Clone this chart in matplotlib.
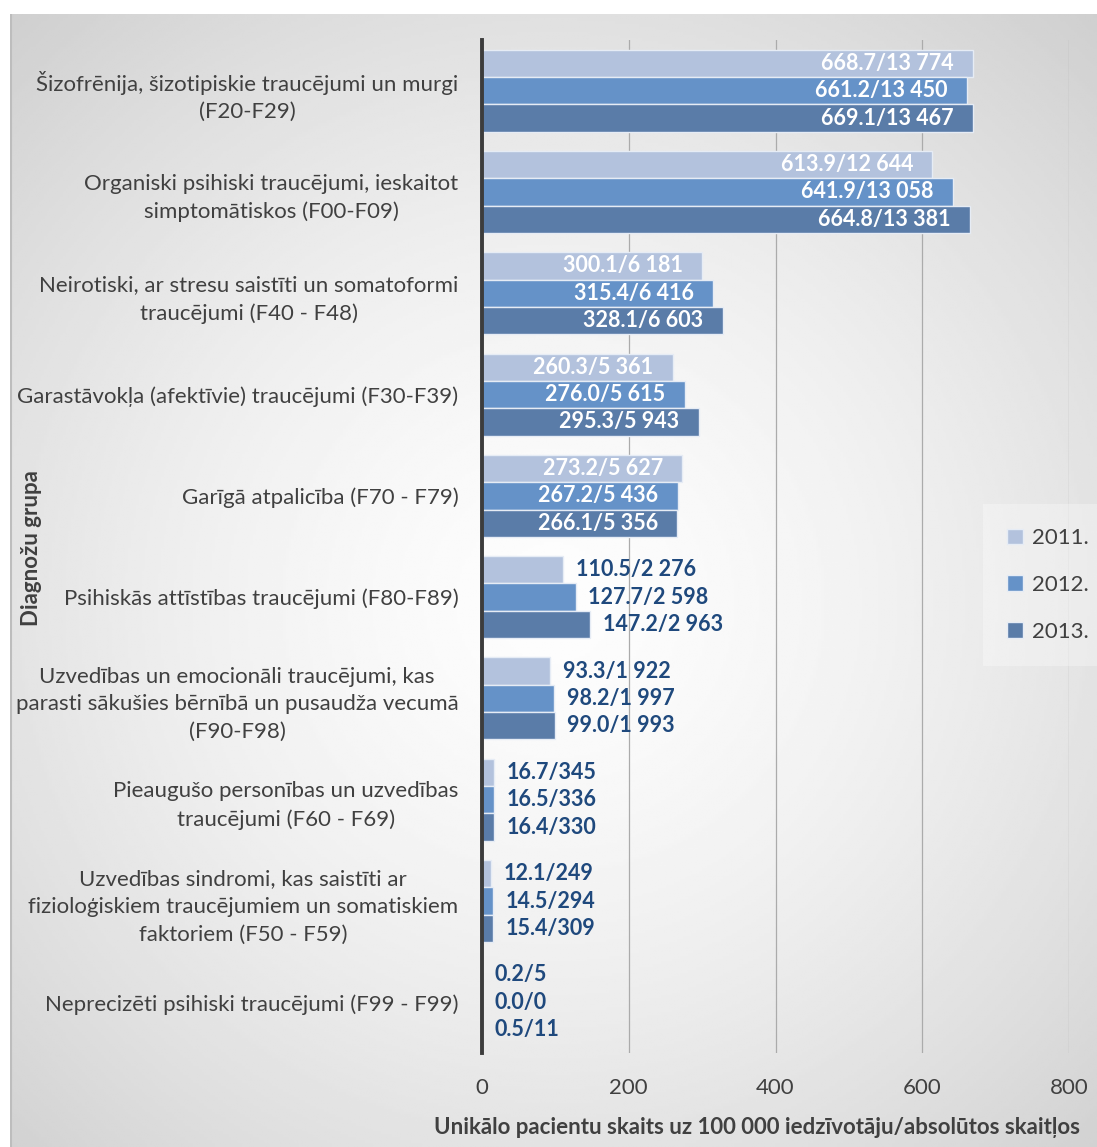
import matplotlib.pyplot as plt
import numpy as np

plt.rcParams['font.family'] = ['Lato', 'DejaVu Sans']

categories = [
    "Šizofrēnija, šizotipiskie traucējumi un murgi\n(F20-F29)",
    "Organiski psihiski traucējumi, ieskaitot\nsimptomātiskos (F00-F09)",
    "Neirotiski, ar stresu saistīti un somatoformi\ntraucējumi (F40 - F48)",
    "Garastāvokļa (afektīvie) traucējumi (F30-F39)",
    "Garīgā atpalicība (F70 - F79)",
    "Psihiskās attīstības traucējumi (F80-F89)",
    "Uzvedības un emocionāli traucējumi, kas\nparasti sākušies bērnībā un pusaudža vecumā\n(F90-F98)",
    "Pieaugušo personības un uzvedības\ntraucējumi (F60 - F69)",
    "Uzvedības sindromi, kas saistīti ar\nfizioloģiskiem traucējumiem un somatiskiem\nfaktoriem (F50 - F59)",
    "Neprecizēti psihiski traucējumi (F99 - F99)",
]
years = ["2011.", "2012.", "2013."]
# rate per 100 000 inhabitants
rate_2011 = [668.7, 613.9, 300.1, 260.3, 273.2, 110.5, 93.3, 16.7, 12.1, 0.2]
rate_2012 = [661.2, 641.9, 315.4, 276.0, 267.2, 127.7, 98.2, 16.5, 14.5, 0.0]
rate_2013 = [669.1, 664.8, 328.1, 295.3, 266.1, 147.2, 99.0, 16.4, 15.4, 0.5]
# absolute patient counts
abs_2011 = [13774, 12644, 6181, 5361, 5627, 2276, 1922, 345, 249, 5]
abs_2012 = [13450, 13058, 6416, 5615, 5436, 2598, 1997, 336, 294, 0]
abs_2013 = [13467, 13381, 6603, 5943, 5356, 2963, 1993, 330, 309, 11]

colors = ['#b3c2dd', '#6592c8', '#5a7ca8']
txt_gray = '#404040'
txt_blue = '#1f497d'
fs = 16

W, H = 1097, 1147
fig = plt.figure(figsize=(W / 100, H / 100), dpi=100)

# soft radial background of the chart area
bg = fig.add_axes([10 / W, 0, 1 - 10 / W, 1 - 14 / H], zorder=-10)
gx, gy = np.meshgrid(np.linspace(0, 1, 400), np.linspace(0, 1, 400))
r = np.hypot(gx - 0.5, (gy - 0.52) * 1.05)
shade = np.clip(253 - 72 * r ** 1.5, 0, 255) / 255
bg.imshow(shade, cmap='gray', vmin=0, vmax=1, aspect='auto', extent=[0, 1, 0, 1])
bg.axvline(0.001, color='#bdbdbd', lw=1.5)
bg.axis('off')

ax = fig.add_axes([482 / W, 1 - 1053 / H, (1069 - 482) / W, (1053 - 40) / H])
ax.set_facecolor('none')

y = np.arange(len(categories))
h = 0.27
series = [(rate_2011, abs_2011), (rate_2012, abs_2012), (rate_2013, abs_2013)]
for k, (rates, counts) in enumerate(series):
    pos = y + (k - 1) * h
    ax.barh(pos, rates, height=h, color=colors[k], edgecolor='#e6ecf5',
            linewidth=1.0, label=years[k], zorder=3)
    for p, v, n in zip(pos, rates, counts):
        txt = f"{v:.1f}/{n:,}".replace(",", " ")
        if v >= 200:
            ax.annotate(txt, (v, p), xytext=(-14, 0), textcoords='offset points',
                        ha='right', va='center', color='white',
                        fontsize=15.5, fontweight='bold', zorder=4)
        else:
            ax.annotate(txt, (v, p), xytext=(9, 0), textcoords='offset points',
                        ha='left', va='center', color=txt_blue,
                        fontsize=15.5, fontweight='bold', zorder=4)

ax.set_xlim(0, 800)
ax.set_ylim(len(categories) - 0.5, -0.5)
ax.set_xticks([0, 200, 400, 600, 800])
ax.tick_params(axis='x', length=0, pad=18, labelsize=fs, labelcolor=txt_gray)
ax.set_yticks(y)
labels = ax.set_yticklabels(categories, multialignment='center', linespacing=1.48)
for lb in labels:
    lb.set_y(lb.get_position()[1])
ax.tick_params(axis='y', length=0, pad=17, labelsize=fs, labelcolor=txt_gray)
ax.grid(axis='x', color='#ababab', linewidth=0.9, zorder=0)
for s in ['top', 'right', 'bottom']:
    ax.spines[s].set_visible(False)
ax.spines['left'].set_color('#3c3c3c')
ax.spines['left'].set_linewidth(2.8)
ax.spines['left'].set_zorder(5)

fig.text(32 / W, 1 - 548 / H, "Diagnožu grupa", rotation=90, ha='center',
         va='center', fontsize=fs, fontweight='bold', color=txt_gray)
fig.text(757 / W, 1 - 1128 / H,
         "Unikālo pacientu skaits uz 100 000 iedzīvotāju/absolūtos skaitļos",
         ha='center', va='center', fontsize=fs, fontweight='bold', color=txt_gray)

leg = fig.legend(loc='center', bbox_to_anchor=(1048 / W, 1 - 585 / H),
                 frameon=True, fontsize=fs, handlelength=0.7, handleheight=0.7,
                 labelspacing=1.2, handletextpad=0.4, borderpad=1.1,
                 fancybox=False)
leg.get_frame().set_facecolor('white')
leg.get_frame().set_alpha(0.3)
leg.get_frame().set_edgecolor('none')
for t in leg.get_texts():
    t.set_color(txt_gray)

fig.savefig('out.png', dpi=100)
